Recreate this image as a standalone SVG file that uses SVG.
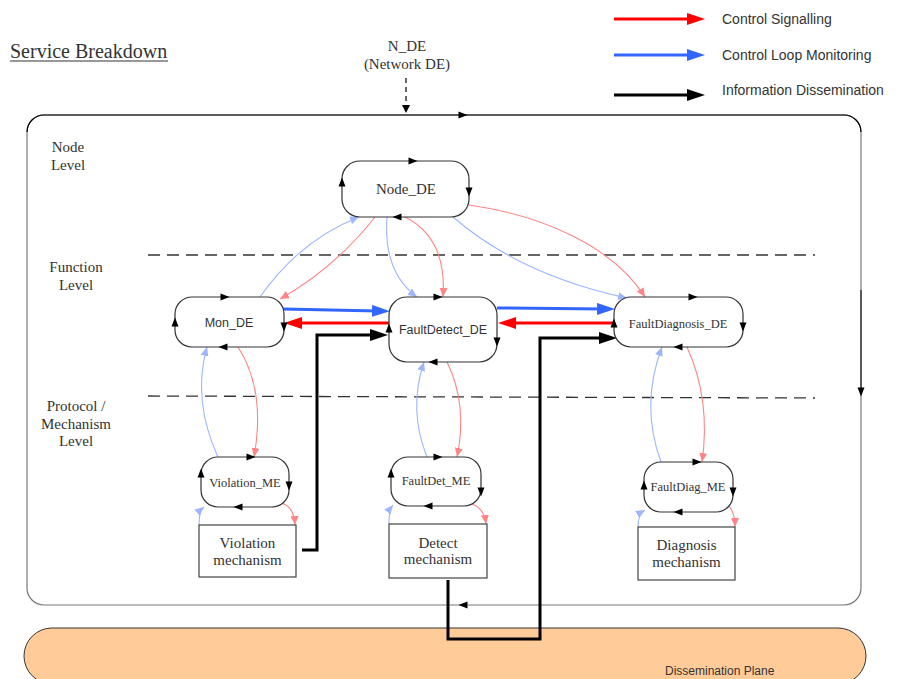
<svg xmlns="http://www.w3.org/2000/svg" xmlns:xlink="http://www.w3.org/1999/xlink" width="898" height="679" viewBox="0 0 898 679">
<style>
.serif{font-family:"Liberation Serif","Times New Roman",serif;fill:#333}
.sans{font-family:"Liberation Sans",Arial,sans-serif;fill:#333}
.node{fill:#fff;stroke:#333;stroke-width:1.2}
.box{fill:#fff;stroke:#444;stroke-width:1.2}
.lb{fill:none;stroke:#9DB5FF;stroke-width:1.1;marker-end:url(#mLB)}
.lr{fill:none;stroke:#FF8585;stroke-width:1.1;marker-end:url(#mLR)}
.tb{fill:none;stroke:#3366FF;stroke-width:3;marker-end:url(#mB)}
.tr{fill:none;stroke:#FF0000;stroke-width:3;marker-end:url(#mR)}
.tk{fill:none;stroke:#000;stroke-width:3;marker-end:url(#mK)}
.lvl{stroke:#333;stroke-width:1.3;stroke-dasharray:12 7;fill:none}
</style>
<defs>
<marker id="mLB" viewBox="0 0 9 8" refX="9" refY="4" markerWidth="9" markerHeight="8" markerUnits="userSpaceOnUse" orient="auto"><path d="M0,0 L9,4 L0,8 z" fill="#9DB5FF"/></marker>
<marker id="mLR" viewBox="0 0 9 8" refX="9" refY="4" markerWidth="9" markerHeight="8" markerUnits="userSpaceOnUse" orient="auto"><path d="M0,0 L9,4 L0,8 z" fill="#FF8585"/></marker>
<marker id="mB" viewBox="0 0 18 12" refX="6" refY="6" markerWidth="18" markerHeight="12" markerUnits="userSpaceOnUse" orient="auto"><path d="M0,0 L18,6 L0,12 z" fill="#3366FF"/></marker>
<marker id="mR" viewBox="0 0 18 12" refX="6" refY="6" markerWidth="18" markerHeight="12" markerUnits="userSpaceOnUse" orient="auto"><path d="M0,0 L18,6 L0,12 z" fill="#FF0000"/></marker>
<marker id="mK" viewBox="0 0 18 12" refX="6" refY="6" markerWidth="18" markerHeight="12" markerUnits="userSpaceOnUse" orient="auto"><path d="M0,0 L18,6 L0,12 z" fill="#000"/></marker>
<marker id="mS" viewBox="0 0 8 8" refX="8" refY="4" markerWidth="8" markerHeight="8" markerUnits="userSpaceOnUse" orient="auto"><path d="M0,0 L8,4 L0,8 z" fill="#000"/></marker>
<path id="ca" d="M-4.5,-3.5 L4.5,0 L-4.5,3.5 z" fill="#000"/>
</defs>

<!-- title and legend -->
<g id="title">
<text class="serif" x="10" y="58" font-size="20">Service Breakdown</text>
<line x1="10" y1="61" x2="168" y2="61" stroke="#333" stroke-width="1"/>
</g>
<g id="legend">
<path class="tr" d="M614,19 L693,19"/>
<path class="tb" d="M614,55 L693,55"/>
<path class="tk" d="M614,95 L693,95"/>
<text class="sans" x="722" y="24" font-size="14">Control Signalling</text>
<text class="sans" x="722" y="60" font-size="14">Control Loop Monitoring</text>
<text class="sans" x="722" y="95" font-size="14">Information Dissemination</text>
</g>

<g id="n_de">
<text class="serif" x="407" y="51" font-size="15" text-anchor="middle">N_DE</text>
<text class="serif" x="407" y="69" font-size="15" text-anchor="middle">(Network DE)</text>
<path d="M406,78 L406,113" stroke="#000" stroke-width="1.2" stroke-dasharray="5 4" fill="none" marker-end="url(#mS)"/>
</g>

<!-- dissemination plane -->
<g id="dissemination-plane">
<rect x="24" y="628" width="842" height="56" rx="28" fill="#FFCC99" stroke="#333" stroke-width="1"/>
<text class="sans" x="665" y="675" font-size="12">Dissemination Plane</text>
</g>

<!-- outer container -->
<g id="container">
<rect x="27" y="115" width="834" height="490" rx="17" fill="none" stroke="#777" stroke-width="1.2"/>
<path d="M27,132 A17,17 0 0 1 44,115 L844,115 A17,17 0 0 1 861,132" fill="none" stroke="#000" stroke-width="1.2"/>
<path d="M861,290 L861,392" stroke="#222" stroke-width="1.2"/>
<use xlink:href="#ca" transform="translate(463,115)"/>
<use xlink:href="#ca" transform="translate(861,392) rotate(90)"/>
<use xlink:href="#ca" transform="translate(463,605) rotate(180)"/>
</g>

<!-- level labels and separators -->
<g id="levels">
<text class="serif" x="68" y="152" font-size="15" text-anchor="middle">Node</text>
<text class="serif" x="68" y="170" font-size="15" text-anchor="middle">Level</text>
<text class="serif" x="76" y="272" font-size="15" text-anchor="middle">Function</text>
<text class="serif" x="76" y="290" font-size="15" text-anchor="middle">Level</text>
<text class="serif" x="76" y="411" font-size="15" text-anchor="middle">Protocol /</text>
<text class="serif" x="76" y="429" font-size="15" text-anchor="middle">Mechanism</text>
<text class="serif" x="76" y="446" font-size="15" text-anchor="middle">Level</text>
<path class="lvl" d="M148,255 L815,255"/>
<path class="lvl" d="M148,396 L815,398"/>
</g>

<!-- connectors -->
<g id="connectors">
<path class="lb" d="M260,297 Q300,240 359,217"/>
<path class="lr" d="M375,217 Q335,268 280,299"/>
<path class="lb" d="M387,217 Q383,272 417,297"/>
<path class="lr" d="M405,217 Q447,238 443,297"/>
<path class="lb" d="M453,217 Q520,275 627,298"/>
<path class="lr" d="M469,205 C540,215 612,245 645,297"/>

<path class="tb" d="M283,309 L378,311"/>
<path class="tr" d="M389,323 L296,323"/>
<path class="tb" d="M497,308 L603,309"/>
<path class="tr" d="M614,323 L510,323"/>

<path class="lb" d="M218,457 Q192,400 207,347"/>
<path class="lr" d="M238,347 Q266,390 254,457"/>
<path class="lb" d="M199,525 Q199,511 204,507"/>
<path class="lr" d="M281,503 Q294,506 295,525"/>

<path class="lb" d="M427,457 Q408,410 424,362"/>
<path class="lr" d="M447,362 Q468,405 457,457"/>
<path class="lb" d="M389,524 Q389,510 393,505"/>
<path class="lr" d="M472,504 Q484,508 486,524"/>

<path class="lb" d="M661,462 Q640,405 662,347"/>
<path class="lr" d="M687,347 Q711,400 702,462"/>
<path class="lb" d="M638,527 Q638,514 645,510"/>
<path class="lr" d="M728,505 Q735,512 735,527"/>

<path class="tk" d="M302,550 H317 V335 H376"/>
<path class="tk" d="M448,580 V639 H540 V338 H605"/>
</g>

<!-- nodes -->
<g id="Node_DE">
<rect class="node" x="342" y="161" width="127" height="56" rx="18"/>
<use xlink:href="#ca" transform="translate(413,161)"/>
<use xlink:href="#ca" transform="translate(469,192) rotate(90)"/>
<use xlink:href="#ca" transform="translate(397,217) rotate(180)"/>
<use xlink:href="#ca" transform="translate(342,182) rotate(-90)"/>
<text class="serif" x="406" y="194" font-size="15" text-anchor="middle">Node_DE</text>
</g>
<g id="Mon_DE">
<rect class="node" x="175" y="297" width="109" height="50" rx="17"/>
<use xlink:href="#ca" transform="translate(225,297)"/>
<use xlink:href="#ca" transform="translate(284,327) rotate(90)"/>
<use xlink:href="#ca" transform="translate(223,347) rotate(180)"/>
<use xlink:href="#ca" transform="translate(175,322) rotate(-90)"/>
<text class="sans" x="229" y="326.5" font-size="12.5" text-anchor="middle">Mon_DE</text>
</g>
<g id="FaultDetect_DE">
<rect class="node" x="389" y="297" width="108" height="65" rx="18"/>
<use xlink:href="#ca" transform="translate(438,297)"/>
<use xlink:href="#ca" transform="translate(497,342) rotate(90)"/>
<use xlink:href="#ca" transform="translate(433,362) rotate(180)"/>
<use xlink:href="#ca" transform="translate(389,328) rotate(-90)"/>
<text class="sans" x="443" y="334" font-size="12.5" text-anchor="middle">FaultDetect_DE</text>
</g>
<g id="FaultDiagnosis_DE">
<rect class="node" x="614" y="297" width="129" height="50" rx="17"/>
<use xlink:href="#ca" transform="translate(693,297)"/>
<use xlink:href="#ca" transform="translate(743,327) rotate(90)"/>
<use xlink:href="#ca" transform="translate(678,347) rotate(180)"/>
<use xlink:href="#ca" transform="translate(614,323) rotate(-90)"/>
<text class="serif" x="678" y="327.5" font-size="12.5" text-anchor="middle">FaultDiagnosis_DE</text>
</g>
<g id="Violation_ME">
<rect class="node" x="201" y="457" width="88" height="50" rx="17"/>
<use xlink:href="#ca" transform="translate(251,457)"/>
<use xlink:href="#ca" transform="translate(289,486) rotate(90)"/>
<use xlink:href="#ca" transform="translate(238,507) rotate(180)"/>
<use xlink:href="#ca" transform="translate(201,473) rotate(-90)"/>
<text class="serif" x="245" y="487" font-size="12.5" text-anchor="middle">Violation_ME</text>
</g>
<g id="FaultDet_ME">
<rect class="node" x="391" y="457" width="90" height="49" rx="17"/>
<use xlink:href="#ca" transform="translate(438,457)"/>
<use xlink:href="#ca" transform="translate(481,492) rotate(90)"/>
<use xlink:href="#ca" transform="translate(428,506) rotate(180)"/>
<use xlink:href="#ca" transform="translate(391,473) rotate(-90)"/>
<text class="serif" x="436" y="485" font-size="12.5" text-anchor="middle">FaultDet_ME</text>
</g>
<g id="FaultDiag_ME">
<rect class="node" x="644" y="462" width="89" height="50" rx="17"/>
<use xlink:href="#ca" transform="translate(697,462)"/>
<use xlink:href="#ca" transform="translate(733,492) rotate(90)"/>
<use xlink:href="#ca" transform="translate(678,512) rotate(180)"/>
<use xlink:href="#ca" transform="translate(644,485) rotate(-90)"/>
<text class="serif" x="688" y="491" font-size="12.5" text-anchor="middle">FaultDiag_ME</text>
</g>
<g id="Violation_mechanism">
<rect class="box" x="199" y="525" width="97" height="52"/>
<text class="serif" x="247.5" y="548" font-size="15" text-anchor="middle">Violation</text>
<text class="serif" x="247.5" y="565" font-size="15" text-anchor="middle">mechanism</text>
</g>
<g id="Detect_mechanism">
<rect class="box" x="389" y="524" width="98" height="54"/>
<text class="serif" x="438" y="548" font-size="15" text-anchor="middle">Detect</text>
<text class="serif" x="438" y="564" font-size="15" text-anchor="middle">mechanism</text>
</g>
<g id="Diagnosis_mechanism">
<rect class="box" x="638" y="527" width="97" height="53"/>
<text class="serif" x="686.5" y="550" font-size="15" text-anchor="middle">Diagnosis</text>
<text class="serif" x="686.5" y="567" font-size="15" text-anchor="middle">mechanism</text>
</g>
</svg>
